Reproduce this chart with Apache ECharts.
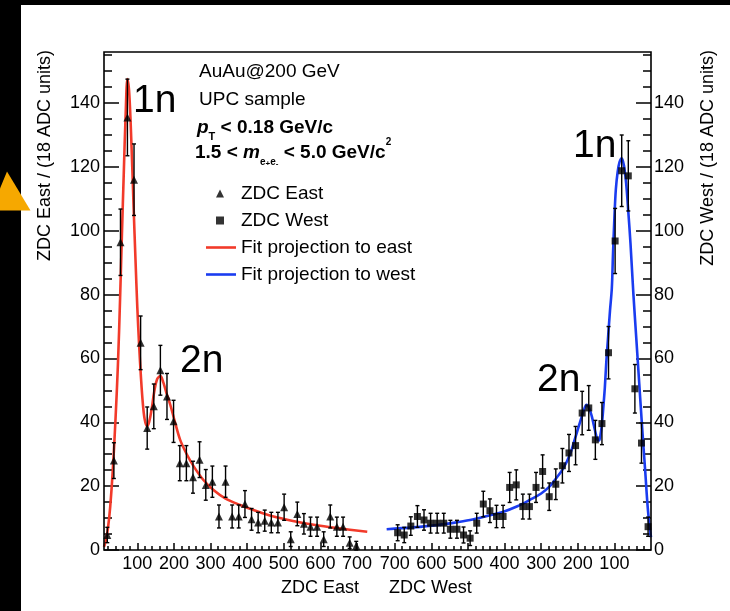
<!DOCTYPE html>
<html>
<head>
<meta charset="utf-8">
<script src="https://cdn.jsdelivr.net/npm/echarts@6/dist/echarts.min.js"></script>
<style>
html,body{margin:0;padding:0;background:#000;}
#chart{width:730px;height:611px;}
</style>
</head>
<body>
<div id="chart"></div>
<script>
// ZDC East histogram: bin centre, counts, error
var eastX = [18,36,54,73,91,109,127,145,163,181,199,216,234,252,270,287,305,323,341,359,377,394,412,430,448,466,484,501,519,537,555,573,591,609,627,645,662,680,698];
var eastY = [4.7,28,96.4,135.5,116,64.9,38.2,45,56.3,48.1,40.3,27.2,27.2,22.8,28.3,20.4,21.4,10.5,21.4,10.5,10.5,14.4,9.6,8.6,9.2,8.6,8.6,13.4,3.4,11.3,8.2,7.3,7.3,3.4,10.5,7.3,7.3,2.3,1.3];
var eastErr = [2.4,5.6,10.4,12,11.2,8.4,6.6,7,7.8,7.2,6.6,5.5,5.5,5,5.6,4.8,4.9,3.6,4.9,3.6,3.6,4.2,3.4,3.2,3.3,3.2,3.2,4.1,2.3,3.7,3.2,3,3,2.3,3.6,3,3,1.8,1.4];

// ZDC West histogram
var westX = [8,26,44,62,80,98,116,134,152,170,188,206,224,242,260,278,296,314,332,350,368,386,404,422,440,458,476,494,512,530,548,566,584,602,620,638,656,674,692];
var westY = [7.3,33.5,50.5,117.2,118.8,96.8,61.8,39.6,34.5,44.5,42.9,32.7,30.4,26.4,20.6,16.7,24.6,19.6,13.6,13.6,20.4,19.6,10.5,10.5,12.3,14.4,8.4,3.7,4.7,6.5,6.5,8.4,8.4,8.4,9.4,10.5,7.5,4.7,5.4];
var westErr = [3,6.3,7.6,11,11.2,10.2,8.2,6.6,6.1,7,6.8,6,5.8,5.4,4.8,4.3,5.2,4.7,3.9,3.9,4.7,4.7,3.5,3.5,3.7,4,3.1,2.3,2.5,2.8,2.8,3.1,3.1,3.1,3.2,3.4,2.9,2.4,2.5];

// fit projections
var eastFitX = [9,14,20,26,33,40,47,53,58,63,68,73,78,84,90,95,100,105,110,115,120,126,132,139,146,154,163,171,180,190,203,217,235,254,280,308,340,381,425,472,525,582,650,728];
var eastFitY = [1,3,7,13.6,25,40,58,79,99,118,136,147.5,143,127,107,91,76,64,54,46,41,38.8,40,44,49.5,53.5,54.5,52.5,49,45.5,40,34.5,30,26.2,22,18.8,16.2,14.1,12.2,10.5,9.1,7.9,6.8,5.7];
var westFitX = [0,8,16,24,32,40,48,56,62,68,74,80,86,91,96,100,104,107,112,117,122,126,130,134,138,142,146,150,156,162,169,176,183,190,198,210,221,240,260,276,300,331,365,403,450,494,540,585,650,722];
var westFitY = [4,12,25,38,52,66,80,96,106,115,120.5,122.7,121.5,118.5,113,104,92,82,75,67,59,51,45,39.5,36,34.3,34.5,36,39,42,44.5,45.5,44,41.5,38.5,34,30,25.5,22.3,20,17.7,15.7,13.7,12,10.6,9.4,8.5,7.8,7.1,6.5];

// ticks
var xMajor = [100,200,300,400,500,600,700];
var xMinor = [20,40,60,80,120,140,160,180,220,240,260,280,320,340,360,380,420,440,460,480,520,540,560,580,620,640,660,680,720,740];
var yMajor = [0,20,40,60,80,100,120,140];
var yMinor = [5,10,15,25,30,35,45,50,55,65,70,75,85,90,95,105,110,115,125,130,135,145,150,155];

var font = 'Liberation Sans, Arial, Helvetica, sans-serif';
var tickStyle = {color:'#000', width:1.5};

function pairs(xs, ys){
  return xs.map(function(x, i){ return [x, ys[i]]; });
}
function triples(xs, ys, es){
  return xs.map(function(x, i){ return [x, ys[i], es[i]]; });
}

// vertical error bar with small caps
function errorItem(params, api){
  var x = api.value(0), y = api.value(1), e = api.value(2);
  var top = api.coord([x, y + e]);
  var bot = api.coord([x, Math.max(y - e, 0)]);
  var s = {stroke:'#000', lineWidth:1.4};
  return {type:'group', children:[
    {type:'line', shape:{x1:top[0], y1:top[1], x2:bot[0], y2:bot[1]}, style:s},
    {type:'line', shape:{x1:top[0]-2, y1:top[1], x2:top[0]+2, y2:top[1]}, style:s},
    {type:'line', shape:{x1:bot[0]-2, y1:bot[1], x2:bot[0]+2, y2:bot[1]}, style:s}
  ]};
}

function xAxis(grid, min, max, inverse, major){
  return {
    gridIndex:grid, type:'value', min:min, max:max, inverse:inverse, position:'bottom',
    axisLine:{show:false}, splitLine:{show:false},
    axisTick: major ? {inside:true, length:7, customValues:xMajor, lineStyle:tickStyle}
                    : {inside:true, length:4, customValues:xMinor, lineStyle:tickStyle},
    axisLabel: major ? {customValues:xMajor, margin:5, fontSize:18, color:'#000', fontFamily:font} : {show:false}
  };
}
function yAxis(grid, pos, major){
  return {
    gridIndex:grid, type:'value', min:0, max:156, position:pos,
    axisLine:{show:false}, splitLine:{show:false},
    axisTick: major ? {inside:true, length:15, customValues:yMajor, lineStyle:tickStyle}
                    : {inside:true, length:8, customValues:yMinor, lineStyle:tickStyle},
    axisLabel: major ? {customValues:yMajor, margin: pos == 'left' ? 4 : 3, fontSize:18, color:'#000', fontFamily:font} : {show:false}
  };
}

var richBold = {
  b:{fontSize:19, fontWeight:'bold', fontFamily:font, lineHeight:30},
  i:{fontSize:19, fontWeight:'bold', fontStyle:'italic', fontFamily:font, lineHeight:30},
  sT:{fontSize:11, fontWeight:'bold', fontFamily:font, lineHeight:11, verticalAlign:'bottom'},
  se:{fontSize:10, fontWeight:'bold', fontFamily:font, lineHeight:19, verticalAlign:'bottom'},
  ss:{fontSize:8, fontWeight:'bold', fontFamily:font, lineHeight:24, verticalAlign:'bottom'},
  sup:{fontSize:10, fontWeight:'bold', fontFamily:font, lineHeight:22, verticalAlign:'top'}
};

function label(txt, x, y, size, align){
  return {type:'text', x:x, y:y, z:20, silent:true,
    style:{text:txt, fill:'#000', fontSize:size, fontFamily:font, align:align || 'left', verticalAlign:'middle'}};
}

var chart = echarts.init(document.getElementById('chart'));
chart.setOption({
  backgroundColor:'#000',
  animation:false,
  grid:[
    {left:104, top:52, width:273.5, height:498},
    {left:377.5, top:52, width:273.5, height:498}
  ],
  xAxis:[
    xAxis(0, 9, 756, false, true),
    xAxis(0, 9, 756, false, false),
    xAxis(1, 0, 747, true, true),
    xAxis(1, 0, 747, true, false)
  ],
  yAxis:[
    yAxis(0, 'left', true),
    yAxis(0, 'left', false),
    yAxis(1, 'right', true),
    yAxis(1, 'right', false)
  ],
  legend:[
    {
      orient:'vertical', left:211, top:179, itemWidth:8, itemHeight:8, itemGap:8, selectedMode:false,
      data:[{name:'ZDC East', icon:'triangle'}, {name:'ZDC West', icon:'rect'}],
      textStyle:{fontSize:19, color:'#000', fontFamily:font, padding:[0,0,0,12]}
    },
    {
      orient:'vertical', left:201, top:233, itemWidth:30, itemHeight:2.6, itemGap:8, selectedMode:false,
      data:[{name:'Fit projection to east', icon:'rect'}, {name:'Fit projection to west', icon:'rect'}],
      textStyle:{fontSize:19, color:'#000', fontFamily:font}
    }
  ],
  graphic:[
    {type:'rect', z:-10, silent:true, shape:{x:21, y:5, width:709, height:606}, style:{fill:'#fff'}},
    {type:'polygon', z:20, silent:true, shape:{points:[[7,171.5],[30.5,210.5],[-9,210.5]]}, style:{fill:'#F6A800'}},
    {type:'rect', z:10, silent:true, shape:{x:104, y:52, width:547, height:498}, style:{fill:'none', stroke:'#000', lineWidth:1.6}},
    {type:'text', x:45, y:50, rotation:Math.PI/2, silent:true,
      style:{text:'ZDC East / (18 ADC units)', fill:'#000', fontSize:18, fontFamily:font, align:'right', verticalAlign:'middle'}},
    {type:'text', x:708, y:50, rotation:Math.PI/2, silent:true,
      style:{text:'ZDC West / (18 ADC units)', fill:'#000', fontSize:18, fontFamily:font, align:'right', verticalAlign:'middle'}},
    label('ZDC East', 359, 588, 18, 'right'),
    label('ZDC West', 389, 588, 18, 'left'),
    label('AuAu@200 GeV', 199, 72, 19),
    label('UPC sample', 199, 100, 19),
    {type:'text', x:197, y:127.5, silent:true,
      style:{text:'{i|p}{sT|T}{b| < 0.18 GeV/c}', fill:'#000', verticalAlign:'middle', rich:richBold}},
    {type:'text', x:195, y:152.5, silent:true,
      style:{text:'{b|1.5 < }{i|m}{se|e}{ss|+}{se|e}{ss|-}{b| < 5.0 GeV/c}{sup|2}', fill:'#000', verticalAlign:'middle', rich:richBold}},
    label('1n', 133, 101.5, 39),
    label('1n', 573, 146, 39),
    label('2n', 180, 361, 39),
    label('2n', 537, 380, 39)
  ],
  series:[
    {name:'Fit projection to east', type:'line', xAxisIndex:0, yAxisIndex:0, data:pairs(eastFitX, eastFitY),
      symbol:'none', smooth:0.35, lineStyle:{color:'#f23a2a', width:2.6}, itemStyle:{color:'#f23a2a'}, z:2},
    {name:'Fit projection to west', type:'line', xAxisIndex:2, yAxisIndex:2, data:pairs(westFitX, westFitY),
      symbol:'none', smooth:0.35, lineStyle:{color:'#1a3cf0', width:2.6}, itemStyle:{color:'#1a3cf0'}, z:2},
    {name:'East errors', type:'custom', xAxisIndex:0, yAxisIndex:0, data:triples(eastX, eastY, eastErr),
      renderItem:errorItem, encode:{x:0, y:1}, z:3, silent:true},
    {name:'West errors', type:'custom', xAxisIndex:2, yAxisIndex:2, data:triples(westX, westY, westErr),
      renderItem:errorItem, encode:{x:0, y:1}, z:3, silent:true},
    {name:'ZDC East', type:'scatter', xAxisIndex:0, yAxisIndex:0, data:pairs(eastX, eastY),
      symbol:'triangle', symbolSize:8, itemStyle:{color:'#000'}, z:4},
    {name:'ZDC West', type:'scatter', xAxisIndex:2, yAxisIndex:2, data:pairs(westX, westY),
      symbol:'rect', symbolSize:7, itemStyle:{color:'#000'}, z:4}
  ]
});
</script>
</body>
</html>
